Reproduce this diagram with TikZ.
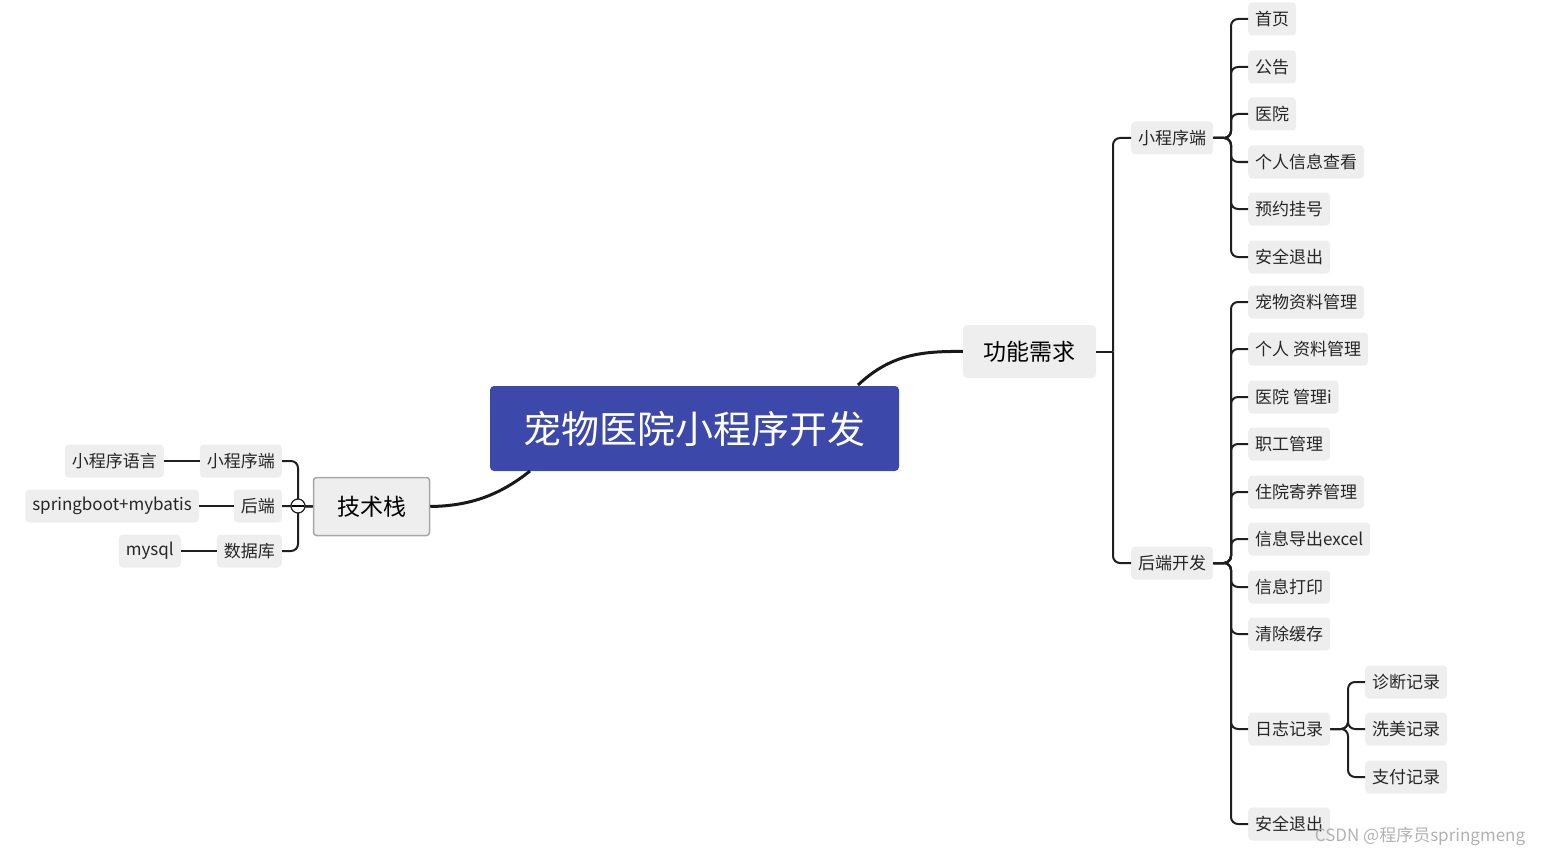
\documentclass[tikz,border=0pt]{standalone}
\usepackage{fontspec}
\setmainfont{Noto Sans CJK SC}
\begin{document}
\begin{tikzpicture}[x=1pt,y=-1pt,
 leaf/.style={fill=leafgray,rounded corners=4pt,font=\fontsize{17}{17}\selectfont,inner xsep=7pt,minimum height=33pt,text=black!85},
 conn/.style={draw=black!88,line width=2pt,rounded corners=7pt},
 main/.style={draw=black!90,line width=3pt}]
\definecolor{leafgray}{HTML}{EEEEEE}
\definecolor{rootblue}{HTML}{3C49AA}
\useasboundingbox (0,0) rectangle (1550,856);
\node[fill=rootblue,rounded corners=4pt,minimum width=409pt,minimum height=85pt,text=white,font=\fontsize{38}{38}\selectfont] (root) at (694.5,428.5) {宠物医院小程序开发};
\node[fill=leafgray,rounded corners=4pt,minimum width=133pt,minimum height=53pt,font=\fontsize{23}{23}\selectfont] (gn) at (1029.5,351.5) {功能需求};
\node[fill=leafgray,draw=black!35,line width=1.5pt,rounded corners=3pt,minimum width=116pt,minimum height=58pt,font=\fontsize{23}{23}\selectfont] (js) at (371.5,506.5) {技术栈};
\draw[main] (858,385) .. controls (890,355) and (920,351) .. (gn.west);
\draw[main] (530,471) .. controls (500,495) and (470,506) .. (js.east);
% right side
\node[leaf,anchor=west] (xc) at (1131,138) {小程序端};
\node[leaf,anchor=west] (hd) at (1131,563) {后端开发};
\draw[conn] (gn.east) -- (1113,351.5);
\foreach \n in {xc,hd} \draw[conn] (1113,351.5) |- (\n.west);
\foreach \t/\y [count=\i] in {首页/19,公告/67,医院/114,个人信息查看/162,预约挂号/209,安全退出/257}{
 \node[leaf,anchor=west] (a\i) at (1248,\y) {\t};
 \draw[conn] (xc.east) -- (1231,138) |- (a\i.west);}
\foreach \t/\y [count=\i] in {宠物资料管理/302,个人 资料管理/349,医院 管理i/397,职工管理/444,住院寄养管理/492,信息导出excel/539,信息打印/587,清除缓存/634,日志记录/729,安全退出/824}{
 \node[leaf,anchor=west] (b\i) at (1248,\y) {\t};
 \draw[conn] (hd.east) -- (1231,563) |- (b\i.west);}
\foreach \t/\y [count=\i] in {诊断记录/682,洗美记录/729,支付记录/777}{
 \node[leaf,anchor=west] (c\i) at (1365,\y) {\t};
 \draw[conn] (b9.east) -- (1348,729) |- (c\i.west);}
% left side
\node[leaf,anchor=east] (l1) at (282,461) {小程序端};
\node[leaf,anchor=east] (l2) at (282,506) {后端};
\node[leaf,anchor=east] (l3) at (282,551) {数据库};
\node[leaf,anchor=east] (m1) at (164,461) {小程序语言};
\node[leaf,anchor=east] (m2) at (199,506) {springboot+mybatis};
\node[leaf,anchor=east] (m3) at (181,551) {mysql};
\foreach \i in {1,2,3}{
 \draw[conn] (js.west) -- (298,506) |- (l\i.east);
 \draw[conn] (l\i.west) -- (m\i.east);}
\node[circle,draw=black!88,line width=1.2pt,fill=white,minimum size=14pt,inner sep=0] (cc) at (298,506) {};
\draw[line width=1.2pt] (292,506) -- (304,506);
\node[text=black!30,font=\fontsize{17}{17}\selectfont] (wm) at (1420,836) {CSDN @程序员springmeng};
\end{tikzpicture}
\end{document}
